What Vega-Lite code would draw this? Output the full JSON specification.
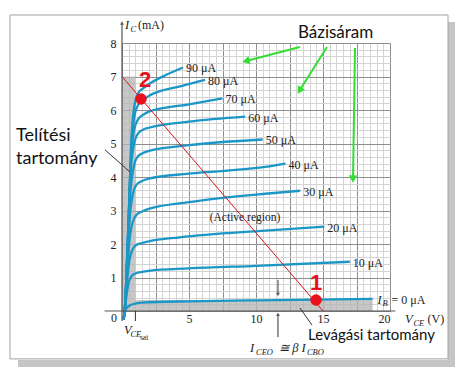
{
  "$schema": "https://vega.github.io/schema/vega-lite/v6.json",
  "width": 268,
  "height": 268,
  "autosize": "none",
  "padding": {"left": 122, "top": 43, "right": 75, "bottom": 60},
  "background": "white",
  "config": {"view": {"stroke": null}},
  "encoding": {
    "x": {
      "field": "x", "type": "quantitative",
      "scale": {"domain": [0, 20], "nice": false, "zero": false},
      "axis": {
        "values": [0,0.5,1,1.5,2,2.5,3,3.5,4,4.5,5,5.5,6,6.5,7,7.5,8,8.5,9,9.5,10,10.5,11,11.5,12,12.5,13,13.5,14,14.5,15,15.5,16,16.5,17,17.5,18,18.5,19,19.5,20],
        "grid": true,
        "gridColor": {"condition": {"test": "datum.value % 2.5 === 0", "value": "#8e8e8e"}, "value": "#d4d4d4"},
        "gridWidth": 1,
        "ticks": false,
        "domain": false,
        "labelExpr": "datum.value % 5 === 0 && datum.value > 0 ? format(datum.value, 'd') : ''",
        "labelFont": "Liberation Serif",
        "labelFontSize": 12,
        "labelColor": "#222",
        "labelPadding": 2,
        "title": null
      }
    },
    "y": {
      "field": "y", "type": "quantitative",
      "scale": {"domain": [0, 8], "nice": false, "zero": false},
      "axis": {
        "values": [0,0.2,0.4,0.6,0.8,1,1.2,1.4,1.6,1.8,2,2.2,2.4,2.6,2.8,3,3.2,3.4,3.6,3.8,4,4.2,4.4,4.6,4.8,5,5.2,5.4,5.6,5.8,6,6.2,6.4,6.6,6.8,7,7.2,7.4,7.6,7.8,8],
        "grid": true,
        "gridColor": {"condition": {"test": "abs(datum.value - round(datum.value)) < 0.01", "value": "#8e8e8e"}, "value": "#d4d4d4"},
        "gridWidth": 1,
        "ticks": false,
        "domain": false,
        "labelExpr": "abs(datum.value - round(datum.value)) < 0.01 && datum.value > 0.5 ? format(datum.value, 'd') : ''",
        "labelFont": "Liberation Serif",
        "labelFontSize": 12,
        "labelColor": "#222",
        "labelPadding": 6,
        "title": null
      }
    }
  },
  "layer": [
    {
      "data": {"values": [
        {"x": 24.33, "x2": 24.85, "y": 8.627, "y2": -1.672},
        {"x": -7.76, "x2": 24.85, "y": -1.463, "y2": -1.672}
      ]},
      "mark": {"type": "rect", "color": "#c6c6c6"},
      "encoding": {"x2": {"field": "x2"}, "y2": {"field": "y2"}}
    },
    {
      "data": {"values": [{"x": -8.36, "x2": 24.33, "y": 8.836, "y2": -1.43}]},
      "mark": {"type": "rect", "filled": false, "stroke": "#a0a0a0", "strokeWidth": 1},
      "encoding": {"x2": {"field": "x2"}, "y2": {"field": "y2"}}
    },
    {
      "data": {"values": [
        {"x": 0, "x2": 1.0, "y": 0.33, "y2": 7},
        {"x": 0, "x2": 18.7, "y": 0, "y2": 0.33}
      ]},
      "mark": {"type": "rect", "color": "#b4b4b4", "opacity": 0.75},
      "encoding": {"x2": {"field": "x2"}, "y2": {"field": "y2"}}
    },
    {
      "data": {"values": [
        {"ib": 0, "x": 0.12, "y": -0.25}, {"ib": 0, "x": 0.3, "y": 0.06}, {"ib": 0, "x": 0.6, "y": 0.17}, {"ib": 0, "x": 1, "y": 0.22}, {"ib": 0, "x": 1.5, "y": 0.25}, {"ib": 0, "x": 5, "y": 0.29}, {"ib": 0, "x": 10, "y": 0.32}, {"ib": 0, "x": 18.7, "y": 0.36},
        {"ib": 10, "x": 0.12, "y": -0.25}, {"ib": 10, "x": 0.2, "y": 0}, {"ib": 10, "x": 0.35, "y": 0.5}, {"ib": 10, "x": 0.5, "y": 0.85}, {"ib": 10, "x": 0.7, "y": 1.03}, {"ib": 10, "x": 1.0, "y": 1.12}, {"ib": 10, "x": 1.5, "y": 1.17}, {"ib": 10, "x": 2, "y": 1.2}, {"ib": 10, "x": 5, "y": 1.27}, {"ib": 10, "x": 10, "y": 1.35}, {"ib": 10, "x": 17, "y": 1.47},
        {"ib": 20, "x": 0.12, "y": -0.25}, {"ib": 20, "x": 0.2, "y": 0}, {"ib": 20, "x": 0.38, "y": 0.9}, {"ib": 20, "x": 0.55, "y": 1.5}, {"ib": 20, "x": 0.75, "y": 1.8}, {"ib": 20, "x": 1.0, "y": 1.95}, {"ib": 20, "x": 1.5, "y": 2.03}, {"ib": 20, "x": 2, "y": 2.08}, {"ib": 20, "x": 4.3, "y": 2.2}, {"ib": 20, "x": 10.7, "y": 2.4}, {"ib": 20, "x": 15.1, "y": 2.52},
        {"ib": 30, "x": 0.12, "y": -0.25}, {"ib": 30, "x": 0.2, "y": 0}, {"ib": 30, "x": 0.4, "y": 1.3}, {"ib": 30, "x": 0.58, "y": 2.2}, {"ib": 30, "x": 0.8, "y": 2.65}, {"ib": 30, "x": 1.1, "y": 2.88}, {"ib": 30, "x": 1.5, "y": 2.97}, {"ib": 30, "x": 2, "y": 3.05}, {"ib": 30, "x": 5, "y": 3.25}, {"ib": 30, "x": 10.7, "y": 3.5}, {"ib": 30, "x": 13.3, "y": 3.59},
        {"ib": 40, "x": 0.12, "y": -0.25}, {"ib": 40, "x": 0.2, "y": 0}, {"ib": 40, "x": 0.42, "y": 1.7}, {"ib": 40, "x": 0.6, "y": 2.9}, {"ib": 40, "x": 0.82, "y": 3.5}, {"ib": 40, "x": 1.1, "y": 3.78}, {"ib": 40, "x": 1.5, "y": 3.88}, {"ib": 40, "x": 2, "y": 3.95}, {"ib": 40, "x": 5, "y": 4.1}, {"ib": 40, "x": 10.7, "y": 4.3}, {"ib": 40, "x": 12.2, "y": 4.4},
        {"ib": 50, "x": 0.12, "y": -0.25}, {"ib": 50, "x": 0.2, "y": 0}, {"ib": 50, "x": 0.44, "y": 2.0}, {"ib": 50, "x": 0.62, "y": 3.5}, {"ib": 50, "x": 0.85, "y": 4.25}, {"ib": 50, "x": 1.15, "y": 4.6}, {"ib": 50, "x": 1.5, "y": 4.7}, {"ib": 50, "x": 2, "y": 4.78}, {"ib": 50, "x": 5, "y": 4.95}, {"ib": 50, "x": 10.5, "y": 5.12},
        {"ib": 60, "x": 0.12, "y": -0.25}, {"ib": 60, "x": 0.2, "y": 0}, {"ib": 60, "x": 0.46, "y": 2.4}, {"ib": 60, "x": 0.64, "y": 4.1}, {"ib": 60, "x": 0.88, "y": 4.95}, {"ib": 60, "x": 1.2, "y": 5.3}, {"ib": 60, "x": 1.6, "y": 5.42}, {"ib": 60, "x": 2, "y": 5.47}, {"ib": 60, "x": 5, "y": 5.65}, {"ib": 60, "x": 9.2, "y": 5.8},
        {"ib": 70, "x": 0.12, "y": -0.25}, {"ib": 70, "x": 0.2, "y": 0}, {"ib": 70, "x": 0.48, "y": 2.6}, {"ib": 70, "x": 0.66, "y": 4.5}, {"ib": 70, "x": 0.9, "y": 5.4}, {"ib": 70, "x": 1.2, "y": 5.72}, {"ib": 70, "x": 1.6, "y": 5.86}, {"ib": 70, "x": 2, "y": 5.95}, {"ib": 70, "x": 5, "y": 6.17}, {"ib": 70, "x": 7.5, "y": 6.35},
        {"ib": 80, "x": 0.12, "y": -0.25}, {"ib": 80, "x": 0.2, "y": 0}, {"ib": 80, "x": 0.5, "y": 2.8}, {"ib": 80, "x": 0.68, "y": 4.8}, {"ib": 80, "x": 0.92, "y": 5.8}, {"ib": 80, "x": 1.2, "y": 6.15}, {"ib": 80, "x": 1.6, "y": 6.3}, {"ib": 80, "x": 2, "y": 6.42}, {"ib": 80, "x": 4.5, "y": 6.72}, {"ib": 80, "x": 6.2, "y": 6.9},
        {"ib": 90, "x": 0.12, "y": -0.25}, {"ib": 90, "x": 0.2, "y": 0}, {"ib": 90, "x": 0.52, "y": 3.0}, {"ib": 90, "x": 0.7, "y": 5.1}, {"ib": 90, "x": 0.94, "y": 6.15}, {"ib": 90, "x": 1.2, "y": 6.5}, {"ib": 90, "x": 1.6, "y": 6.65}, {"ib": 90, "x": 2, "y": 6.77}, {"ib": 90, "x": 3.3, "y": 7.05}, {"ib": 90, "x": 4.55, "y": 7.27}
      ]},
      "mark": {"type": "line", "color": "#1b97c7", "strokeWidth": 2.3, "interpolate": "monotone"},
      "encoding": {"detail": {"field": "ib"}}
    },
    {
      "data": {"values": [
        {"x": 4.55, "y": 7.27, "t": "90 μA"}, {"x": 6.2, "y": 6.9, "t": "80 μA"}, {"x": 7.5, "y": 6.35, "t": "70 μA"},
        {"x": 9.2, "y": 5.8, "t": "60 μA"}, {"x": 10.5, "y": 5.12, "t": "50 μA"}, {"x": 12.2, "y": 4.4, "t": "40 μA"},
        {"x": 13.3, "y": 3.59, "t": "30 μA"}, {"x": 15.1, "y": 2.52, "t": "20 μA"}, {"x": 17, "y": 1.47, "t": "10 μA"}
      ]},
      "mark": {"type": "text", "align": "left", "baseline": "middle", "dx": 3, "dy": 1, "font": "Liberation Serif", "fontSize": 12, "color": "#222"},
      "encoding": {"text": {"field": "t"}}
    },
    {
      "data": {"values": [{"x": 18.7, "y": 0.36, "t": "I"}]},
      "mark": {"type": "text", "align": "left", "baseline": "middle", "dx": 5, "dy": 1, "font": "Liberation Serif", "fontStyle": "italic", "fontSize": 12, "color": "#222"},
      "encoding": {"text": {"field": "t"}}
    },
    {
      "data": {"values": [{"x": 18.7, "y": 0.36, "t": "B"}]},
      "mark": {"type": "text", "align": "left", "baseline": "middle", "dx": 10, "dy": 4, "font": "Liberation Serif", "fontStyle": "italic", "fontSize": 8.5, "color": "#222"},
      "encoding": {"text": {"field": "t"}}
    },
    {
      "data": {"values": [{"x": 18.7, "y": 0.36, "t": "= 0 μA"}]},
      "mark": {"type": "text", "align": "left", "baseline": "middle", "dx": 19, "dy": 1, "font": "Liberation Serif", "fontSize": 12, "color": "#222"},
      "encoding": {"text": {"field": "t"}}
    },
    {
      "data": {"values": [{"x": 9.18, "y": 2.78, "t": "(Active region)"}]},
      "mark": {"type": "text", "align": "center", "baseline": "middle", "font": "Liberation Serif", "fontSize": 11.5, "color": "#222"},
      "encoding": {"text": {"field": "t"}}
    },
    {
      "data": {"values": [{"x": 0, "y": 7, "x2": 15, "y2": 0}]},
      "mark": {"type": "rule", "color": "#d8141c", "strokeWidth": 1},
      "encoding": {"x2": {"field": "x2"}, "y2": {"field": "y2"}}
    },
    {
      "data": {"values": [{"x": 0, "y": -0.3, "x2": 0, "y2": 8.6}, {"x": -1.3, "y": 0, "x2": 20.4, "y2": 0}]},
      "mark": {"type": "rule", "color": "#555", "strokeWidth": 1.2},
      "encoding": {"x2": {"field": "x2"}, "y2": {"field": "y2"}}
    },
    {
      "data": {"values": [{"x": 0, "y": 8.6}]},
      "mark": {"type": "point", "shape": "triangle-up", "filled": true, "color": "#444", "size": 18},
      "encoding": {}
    },
    {
      "data": {"values": [
        {"x": -1.27, "y": 4.81, "x2": 0.6, "y2": 4.15},
        {"x": 13.28, "y": 0.09, "x2": 14.18, "y2": -0.42},
        {"x": 11.64, "y": 0.93, "x2": 11.64, "y2": 0.5},
        {"x": 11.64, "y": -0.78, "x2": 11.64, "y2": -0.1},
        {"x": 1.0, "y": 0, "x2": 1.0, "y2": -0.3}
      ]},
      "mark": {"type": "rule", "color": "#333", "strokeWidth": 1},
      "encoding": {"x2": {"field": "x2"}, "y2": {"field": "y2"}}
    },
    {
      "data": {"values": [{"x": 11.64, "y": 0.49}]},
      "mark": {"type": "point", "shape": "triangle-down", "filled": true, "color": "#333", "size": 16},
      "encoding": {}
    },
    {
      "data": {"values": [{"x": 11.64, "y": -0.1}]},
      "mark": {"type": "point", "shape": "triangle-up", "filled": true, "color": "#333", "size": 16},
      "encoding": {}
    },
    {
      "data": {"values": [
        {"x": 13.28, "y": 7.88, "x2": 9.25, "y2": 7.46},
        {"x": 15.3, "y": 7.88, "x2": 13.25, "y2": 6.58},
        {"x": 17.39, "y": 7.85, "x2": 17.24, "y2": 3.94}
      ]},
      "mark": {"type": "rule", "color": "#33dd33", "strokeWidth": 2},
      "encoding": {"x2": {"field": "x2"}, "y2": {"field": "y2"}}
    },
    {
      "data": {"values": [{"x": 9.25, "y": 7.46}]},
      "mark": {"type": "point", "shape": "triangle-up", "filled": true, "color": "#33dd33", "size": 70, "angle": 255, "opacity": 1},
      "encoding": {}
    },
    {
      "data": {"values": [{"x": 13.25, "y": 6.58}]},
      "mark": {"type": "point", "shape": "triangle-up", "filled": true, "color": "#33dd33", "size": 70, "angle": 212, "opacity": 1},
      "encoding": {}
    },
    {
      "data": {"values": [{"x": 17.24, "y": 3.94}]},
      "mark": {"type": "point", "shape": "triangle-up", "filled": true, "color": "#33dd33", "size": 70, "angle": 181, "opacity": 1},
      "encoding": {}
    },
    {
      "data": {"values": [{"x": 14.48, "y": 0.33}, {"x": 1.42, "y": 6.33}]},
      "mark": {"type": "circle", "color": "#e8101a", "size": 130, "opacity": 1},
      "encoding": {}
    },
    {
      "data": {"values": [{"x": 14.48, "y": 0.63, "t": "1"}, {"x": 1.72, "y": 6.69, "t": "2"}]},
      "mark": {"type": "text", "align": "center", "baseline": "alphabetic", "font": "Liberation Sans", "fontWeight": "bold", "fontSize": 22, "color": "#e8101a"},
      "encoding": {"text": {"field": "t"}}
    },
    {
      "data": {"values": [{"x": 13.13, "y": 8.15, "t": "Bázisáram"}]},
      "mark": {"type": "text", "align": "left", "baseline": "alphabetic", "font": "Lato", "fontSize": 17, "color": "#111"},
      "encoding": {"text": {"field": "t"}}
    },
    {
      "data": {"values": [{"x": -7.91, "y": 5.07, "t": "Telítési"}, {"x": -7.91, "y": 4.39, "t": "tartomány"}]},
      "mark": {"type": "text", "align": "left", "baseline": "alphabetic", "font": "Lato", "fontSize": 18, "color": "#111"},
      "encoding": {"text": {"field": "t"}}
    },
    {
      "data": {"values": [{"x": 13.88, "y": -0.86, "t": "Levágási tartomány"}]},
      "mark": {"type": "text", "align": "left", "baseline": "alphabetic", "font": "Lato", "fontSize": 15, "color": "#111"},
      "encoding": {"text": {"field": "t"}}
    },
    {
      "data": {"values": [{"x": -0.6, "y": -0.2, "t": "0"}]},
      "mark": {"type": "text", "align": "center", "baseline": "middle", "font": "Liberation Serif", "fontSize": 12, "color": "#222"},
      "encoding": {"text": {"field": "t"}}
    },
    {
      "data": {"values": [
        {"x": 0.22, "y": 8.42, "t": "I"},
        {"x": 21.12, "y": -0.36, "t": "V"},
        {"x": 0.15, "y": -0.69, "t": "V"},
        {"x": 9.55, "y": -1.22, "t": "I"},
        {"x": 11.72, "y": -1.22, "t": "≅ β I"}
      ]},
      "mark": {"type": "text", "align": "left", "baseline": "alphabetic", "font": "Liberation Serif", "fontStyle": "italic", "fontSize": 12.5, "color": "#222"},
      "encoding": {"text": {"field": "t"}}
    },
    {
      "data": {"values": [
        {"x": 0.63, "y": 8.33, "t": "C"},
        {"x": 21.75, "y": -0.45, "t": "CE"},
        {"x": 0.63, "y": -0.78, "t": "CE"},
        {"x": 10.0, "y": -1.31, "t": "CEO"},
        {"x": 13.8, "y": -1.31, "t": "CBO"}
      ]},
      "mark": {"type": "text", "align": "left", "baseline": "alphabetic", "font": "Liberation Serif", "fontStyle": "italic", "fontSize": 8.5, "color": "#222"},
      "encoding": {"text": {"field": "t"}}
    },
    {
      "data": {"values": [{"x": 1.34, "y": -0.86, "t": "sat"}]},
      "mark": {"type": "text", "align": "left", "baseline": "alphabetic", "font": "Liberation Serif", "fontSize": 7.5, "color": "#222"},
      "encoding": {"text": {"field": "t"}}
    },
    {
      "data": {"values": [{"x": 1.19, "y": 8.42, "t": "(mA)"}, {"x": 22.8, "y": -0.36, "t": "(V)"}]},
      "mark": {"type": "text", "align": "left", "baseline": "alphabetic", "font": "Liberation Serif", "fontSize": 12, "color": "#222"},
      "encoding": {"text": {"field": "t"}}
    }
  ]
}
